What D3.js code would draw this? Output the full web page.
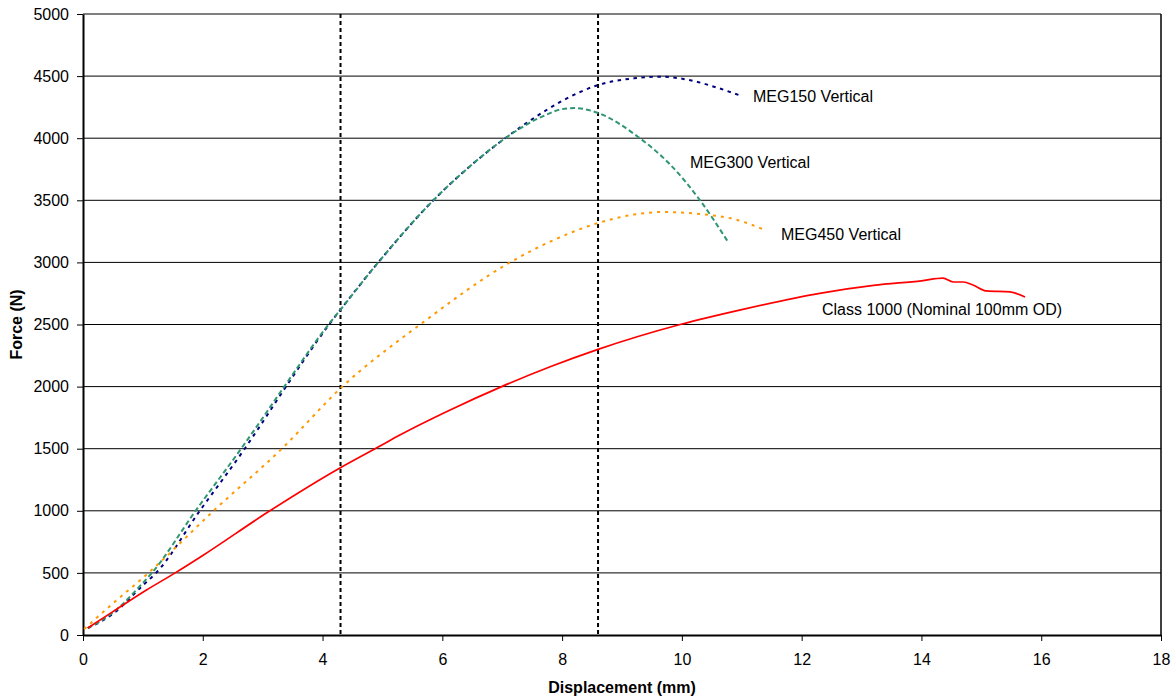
<!DOCTYPE html>
<html>
<head>
<meta charset="utf-8">
<script src="https://cdn.jsdelivr.net/npm/d3@7"></script>
<style>
  body { margin: 0; background: #fff; }
  svg { font-family: "Liberation Sans", Arial, sans-serif; }
</style>
</head>
<body>
<svg width="1176" height="698"></svg>
<script>
// data
const xTicks = [0, 2, 4, 6, 8, 10, 12, 14, 16, 18];
const yTicks = [0, 500, 1000, 1500, 2000, 2500, 3000, 3500, 4000, 4500, 5000];
const markers = [4.3, 8.6];

const meg150X = [0.08, 0.5, 1.0, 1.22, 1.95, 2.7, 2.93, 3.39, 4.11, 4.3, 4.93, 5.85, 6.5, 7.05, 7.74, 8.0, 8.6, 9.2, 9.65, 10.2, 10.6, 10.95];
const meg150Y = [56, 170, 400, 500, 1000, 1500, 1664, 2000, 2500, 2620, 3000, 3500, 3790, 4000, 4227, 4300, 4428, 4482, 4495, 4460, 4405, 4348];

const meg300X = [0.08, 0.5, 1.0, 1.15, 1.88, 2.64, 2.88, 3.36, 4.1, 4.3, 4.93, 5.85, 6.5, 7.05, 7.74, 7.96, 8.2, 8.6, 9.27, 9.8, 10.3, 10.77];
const meg300Y = [56, 180, 420, 500, 1000, 1500, 1664, 2000, 2500, 2620, 3000, 3500, 3790, 4000, 4190, 4230, 4243, 4203, 4010, 3790, 3502, 3165];

const meg450X = [0.02, 0.5, 1.0, 1.23, 2.18, 3.32, 4.33, 5.63, 7.13, 7.8, 8.6, 9.2, 9.68, 10.3, 10.9, 11.39];
const meg450Y = [48, 255, 460, 560, 1000, 1500, 2000, 2500, 3000, 3167, 3317, 3385, 3406, 3390, 3345, 3260];

const classX = [0.08, 0.5, 1.06, 1.54, 2.0, 3.12, 4.29, 4.96, 5.29, 6.13, 6.99, 7.8, 8.6, 9.97, 11.0, 12.3, 13.2, 14.0, 14.36, 14.53, 14.7, 14.86, 15.09, 15.48, 15.73];
const classY = [56, 188, 362, 500, 640, 1000, 1345, 1522, 1610, 1812, 2000, 2160, 2300, 2500, 2620, 2751, 2815, 2852, 2873, 2842, 2842, 2818, 2770, 2762, 2722];

const series = [
  { name: "MEG150 Vertical", xs: meg150X, ys: meg150Y, color: "#000080", dash: "3.5,4.5", lx: 753, ly: 102 },
  { name: "MEG300 Vertical", xs: meg300X, ys: meg300Y, color: "#2f9670", dash: "5,3", lx: 690, ly: 168 },
  { name: "MEG450 Vertical", xs: meg450X, ys: meg450Y, color: "#ff9900", dash: "3,5", lx: 781, ly: 240 },
  { name: "Class 1000 (Nominal 100mm OD)", xs: classX, ys: classY, color: "#ff0000", dash: null, lx: 822, ly: 315 }
];

const svg = d3.select("svg");
const plotL = 83, plotR = 1161, plotT = 14, plotB = 635;

const x = d3.scaleLinear().domain([0, 18]).range([plotL, plotR]);
const y = d3.scaleLinear().domain([0, 5000]).range([plotB, plotT]);

// grid
svg.append("g")
  .selectAll("line")
  .data(yTicks.slice(1))
  .join("line")
  .attr("x1", plotL).attr("x2", plotR)
  .attr("y1", d => y(d)).attr("y2", d => y(d))
  .attr("stroke", "#000").attr("stroke-width", 1);

// right border
svg.append("line")
  .attr("x1", plotR).attr("x2", plotR).attr("y1", plotT).attr("y2", plotB)
  .attr("stroke", "#000").attr("stroke-width", 1.5);

// axes
const xAxis = svg.append("g")
  .attr("transform", `translate(0,${plotB})`)
  .call(d3.axisBottom(x).tickValues(xTicks).tickSize(6).tickSizeOuter(0).tickPadding(13).tickFormat(d3.format("d")));
const yAxis = svg.append("g")
  .attr("transform", `translate(${plotL},0)`)
  .call(d3.axisLeft(y).tickValues(yTicks).tickSize(6).tickSizeOuter(0).tickPadding(8).tickFormat(d3.format("d")));

[xAxis, yAxis].forEach(g => {
  g.select(".domain").attr("stroke", "#000").attr("stroke-width", 2);
  g.selectAll(".tick line").attr("stroke", "#000");
  g.selectAll("text").attr("font-size", 16).attr("fill", "#000")
    .attr("font-family", "Liberation Sans, Arial, sans-serif");
});

// vertical markers
svg.append("g")
  .selectAll("line")
  .data(markers)
  .join("line")
  .attr("x1", d => x(d)).attr("x2", d => x(d))
  .attr("y1", plotT).attr("y2", plotB)
  .attr("stroke", "#000").attr("stroke-width", 2)
  .attr("stroke-dasharray", "4,3");

// curves
const line = d3.line().x(d => x(d[0])).y(d => y(d[1])).curve(d3.curveMonotoneX);

series.forEach(s => {
  const pts = s.xs.map((v, i) => [v, s.ys[i]]);
  svg.append("path")
    .datum(pts)
    .attr("d", line)
    .attr("fill", "none")
    .attr("stroke", s.color)
    .attr("stroke-width", s.dash ? 2 : 1.7)
    .attr("stroke-dasharray", s.dash);
  svg.append("text")
    .attr("x", s.lx).attr("y", s.ly)
    .attr("font-size", 16)
    .attr("fill", "#000")
    .text(s.name);
});

// axis titles
svg.append("text")
  .attr("x", (plotL + plotR) / 2).attr("y", 693)
  .attr("text-anchor", "middle")
  .attr("font-size", 16).attr("font-weight", "bold")
  .text("Displacement (mm)");

svg.append("text")
  .attr("transform", `translate(22,${(plotT + plotB) / 2}) rotate(-90)`)
  .attr("text-anchor", "middle")
  .attr("font-size", 16).attr("font-weight", "bold")
  .text("Force (N)");
</script>
</body>
</html>
